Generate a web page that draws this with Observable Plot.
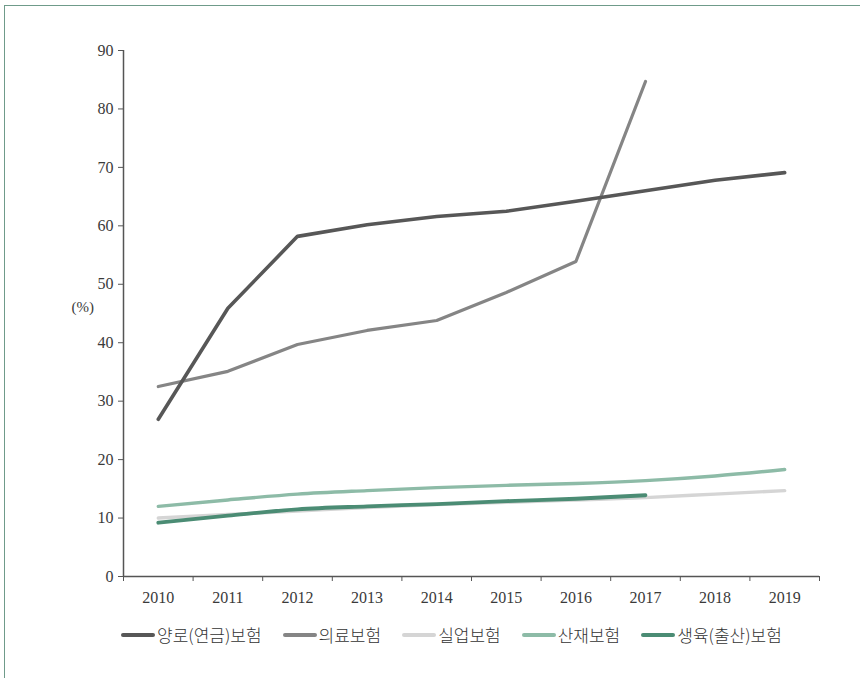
<!DOCTYPE html>
<html><head><meta charset="utf-8">
<script src="https://cdn.jsdelivr.net/npm/d3@7"></script>
<script src="https://cdn.jsdelivr.net/npm/@observablehq/plot@0.6"></script>
<style>
html,body{margin:0;padding:0;background:#fff;}
#wrap{position:relative;width:860px;height:678px;overflow:hidden;}
#frame{position:absolute;left:4px;top:5px;width:900px;height:700px;border-top:1.5px solid #6f9b8a;border-left:1.5px solid #6f9b8a;}
#chart{position:absolute;left:0;top:0;}
#legend{position:absolute;left:121px;top:622px;display:flex;font-family:"Noto Sans CJK KR",sans-serif;font-size:17px;color:#333;font-weight:300;white-space:nowrap;}
.item{display:flex;align-items:center;margin-right:21px;}
.sw{width:34px;height:4px;border-radius:2px;margin-right:2px;}
</style></head>
<body><div id="wrap"><div id="frame"></div><div id="chart"></div><div id="legend"></div></div>
<script>
const years = [2010,2011,2012,2013,2014,2015,2016,2017,2018,2019];
const seriesNames = ["양로(연금)보험","의료보험","실업보험","산재보험","생육(출산)보험"];
const colors = ["#575757","#858585","#d5d5d5","#8dbba7","#4b8c74"];
const pension  = [26.9,45.9,58.2,60.2,61.6,62.5,64.2,66.0,67.8,69.1];
const medical  = [32.5,35.1,39.7,42.1,43.8,48.6,53.9,84.7];
const unemploy = [10.0,10.6,11.2,11.8,12.3,12.7,13.1,13.5,14.1,14.7];
const injury   = [12.0,13.1,14.1,14.7,15.2,15.6,15.9,16.4,17.2,18.3];
const maternity= [9.2,10.4,11.5,12.0,12.4,12.9,13.3,13.9];
const yTicks = [0,10,20,30,40,50,60,70,80,90];
const seriesValues = [pension, medical, unemploy, injury, maternity];

const rows = [];
seriesValues.forEach((vals, i) => vals.forEach((v, j) => rows.push({series: seriesNames[i], year: years[j], value: v})));
const boundaries = [years[0]-0.5, ...years.map(y => y+0.5)];
const curves = ["linear","linear","monotone-x","monotone-x","monotone-x"];
const widths = [3.6,3.2,3.4,3.4,3.8];
const drawOrder = [2,3,4,1,0];

const chart = Plot.plot({
  width: 860, height: 615,
  marginTop: 50, marginLeft: 123, marginRight: 41, marginBottom: 39,
  x: {domain: [boundaries[0], boundaries[boundaries.length-1]]},
  y: {domain: [0, 90]},
  style: {fontFamily: "'Liberation Serif', serif", fontSize: "16px", color: "#3a3a3a", background: "transparent"},
  marks: [
    Plot.axisY({ticks: yTicks, tickSize: 5, tickPadding: 5, label: null, stroke: "#555"}),
    Plot.axisX({ticks: years, tickSize: 0, tickPadding: 15, tickFormat: d => String(d), label: null}),
    Plot.axisX({ticks: boundaries, tickSize: 5, tickFormat: () => "", label: null, stroke: "#555"}),
    Plot.ruleX([boundaries[0]], {stroke: "#555", strokeWidth: 1.5}),
    Plot.ruleY([0], {stroke: "#555", strokeWidth: 1.5}),
    ...drawOrder.map(i => Plot.line(rows.filter(r => r.series === seriesNames[i]), {
      x: "year", y: "value", stroke: colors[i], strokeWidth: widths[i], curve: curves[i]
    })),
    Plot.text(["(%)"], {frameAnchor: "left", dx: -52, dy: -6, fontSize: 15, fill: "#3a3a3a"})
  ]
});
document.getElementById("chart").appendChild(chart);

const legend = document.getElementById("legend");
seriesNames.forEach((n, i) => {
  const it = document.createElement("div"); it.className = "item";
  const sw = document.createElement("div"); sw.className = "sw"; sw.style.background = colors[i];
  const tx = document.createElement("span"); tx.textContent = n;
  it.appendChild(sw); it.appendChild(tx); legend.appendChild(it);
});
</script></body></html>
